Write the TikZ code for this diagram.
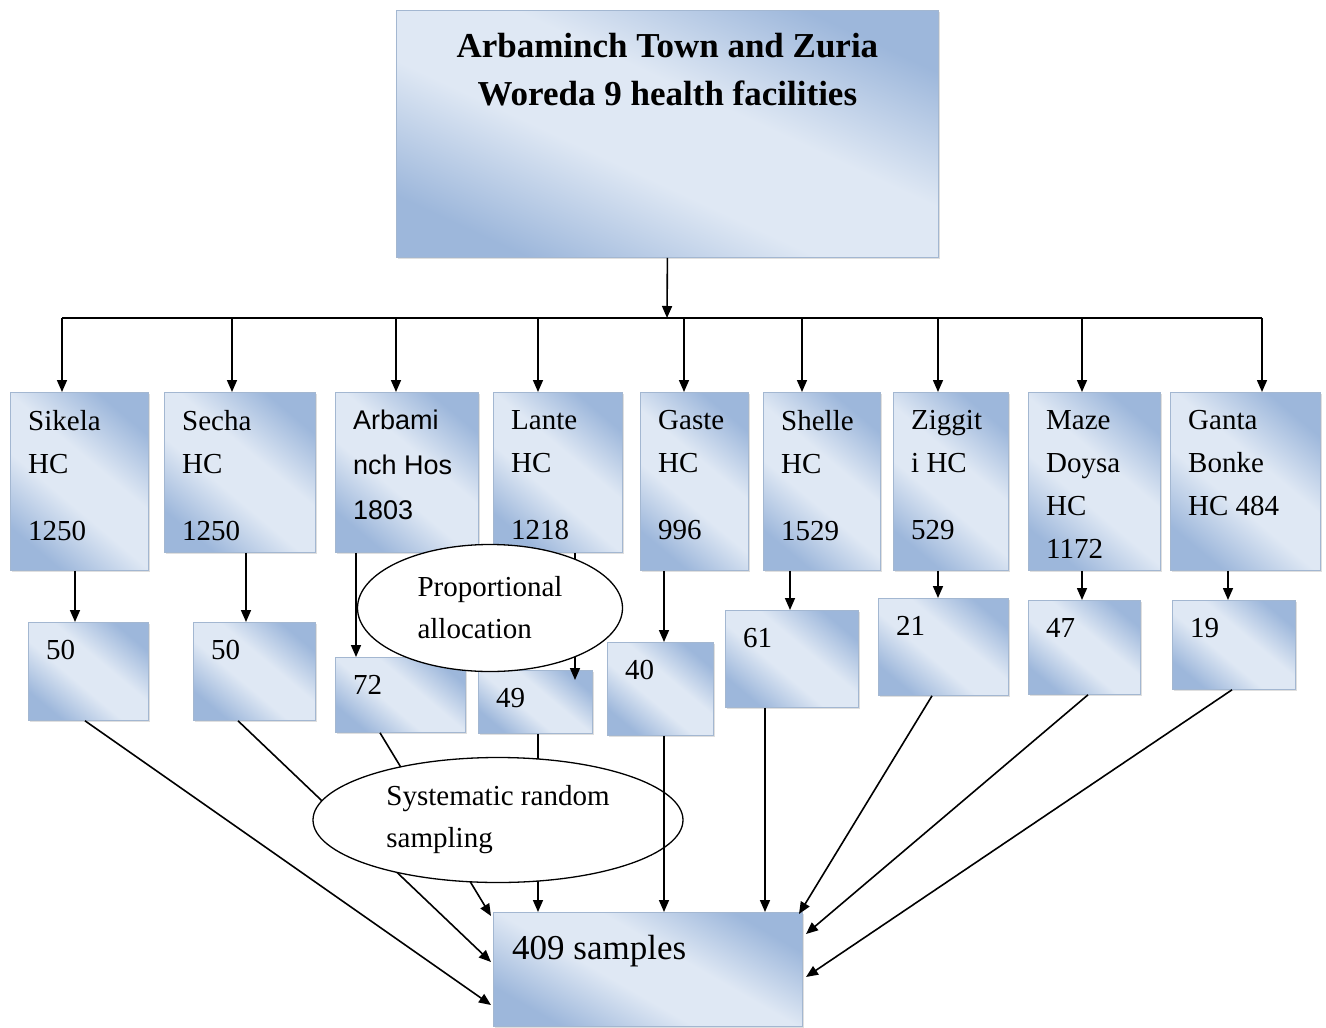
\documentclass[tikz,border=0pt]{standalone}
\usepackage{fontspec}
\setmainfont{Liberation Serif}
\newfontfamily\boxsans{Liberation Sans}
\usepackage{tikz}
\usetikzlibrary{calc,arrows.meta,shapes.geometric,shadows}
\definecolor{boxdark}{HTML}{9DB7DB}
\definecolor{boxlight}{HTML}{DFE8F4}
\definecolor{boxedge}{HTML}{A3B7D1}
\pgfdeclareverticalshading{boxfill}{100bp}{color(0bp)=(boxdark); color(25bp)=(boxdark);
  color(43bp)=(boxlight); color(57bp)=(boxlight); color(75bp)=(boxdark); color(100bp)=(boxdark)}
\tikzset{
  box/.style={draw=boxedge, line width=0.8pt, anchor=north west, inner sep=0pt,
    shading=boxfill, shading angle=-40,
    drop shadow={shadow xshift=1.5pt, shadow yshift=-2pt, opacity=0.25}},
  lab/.style={anchor=north west, inner xsep=18pt, inner ysep=18pt, align=left,
    text=black, font=\fontsize{29}{43}\selectfont},
  labs/.style={lab, font=\boxsans\fontsize{27}{45}\selectfont},
  labt/.style={anchor=north, inner ysep=23pt, align=center, text=black,
    font=\bfseries\fontsize{35}{48}\selectfont},
  labb/.style={lab, inner xsep=19pt, inner ysep=23pt, font=\fontsize{35}{42}\selectfont},
  oval/.style={ellipse, draw=black, fill=white, line width=1.3pt, inner sep=0pt,
    align=left, font=\fontsize{29}{42}\selectfont},
  link/.style={draw=black, line width=1.6pt},
  arr/.style={link, -{Triangle[length=12pt,width=10pt]}},
}
\begin{document}
\begin{tikzpicture}[x=1pt,y=-1pt]
  \useasboundingbox (0,0) rectangle (1326,1028);
  \fill[white] (0,0) rectangle (1326,1028);
  % top box
  \node[box, shading angle=-25, minimum width=542pt, minimum height=247pt,
    label={[labt]north:{Arbaminch Town and Zuria\\Woreda 9 health facilities}}] (facilities) at (396,10) {};
  % health facilities
  \node[box, minimum width=138pt, minimum height=178pt, label={[lab]north west:{Sikela\\HC\\[24pt]1250}}] (sikela) at (10,392) {};
  \node[box, minimum width=151pt, minimum height=160pt, label={[lab]north west:{Secha\\HC\\[24pt]1250}}] (secha) at (164,392) {};
  \node[box, minimum width=143pt, minimum height=160pt, label={[labs]north west:{Arbami\\nch Hos\\1803}}] (arbami) at (335,392) {};
  \node[box, minimum width=129pt, minimum height=160pt, label={[lab]north west:{Lante\\HC\\[24pt]1218}}] (lante) at (493,392) {};
  \node[box, minimum width=108pt, minimum height=178pt, label={[lab]north west:{Gaste\\HC\\[24pt]996}}] (gaste) at (640,392) {};
  \node[box, minimum width=117pt, minimum height=178pt, label={[lab]north west:{Shelle\\HC\\[24pt]1529}}] (shelle) at (763,392) {};
  \node[box, minimum width=115pt, minimum height=178pt, label={[lab]north west:{Ziggit\\i HC\\[24pt]529}}] (ziggit) at (893,392) {};
  \node[box, minimum width=132pt, minimum height=178pt, label={[lab]north west:{Maze\\Doysa\\HC\\1172}}] (maze) at (1028,392) {};
  \node[box, minimum width=150pt, minimum height=178pt, label={[lab]north west:{Ganta\\Bonke\\HC 484}}] (ganta) at (1170,392) {};
  % sample sizes
  \node[box, minimum width=120pt, minimum height=98pt, label={[lab]north west:50}] (n50a) at (28,622) {};
  \node[box, minimum width=122pt, minimum height=98pt, label={[lab]north west:50}] (n50b) at (193,622) {};
  \node[box, minimum width=130pt, minimum height=75pt, label={[lab]north west:72}] (n72) at (335,657) {};
  \node[box, minimum width=114pt, minimum height=63pt, label={[lab]north west:49}] (n49) at (478,670) {};
  \node[box, minimum width=106pt, minimum height=93pt, label={[lab]north west:40}] (n40) at (607,642) {};
  \node[box, minimum width=133pt, minimum height=97pt, label={[lab]north west:61}] (n61) at (725,610) {};
  \node[box, minimum width=130pt, minimum height=97pt, label={[lab]north west:21}] (n21) at (878,598) {};
  \node[box, minimum width=112pt, minimum height=94pt, label={[lab]north west:47}] (n47) at (1028,600) {};
  \node[box, minimum width=123pt, minimum height=89pt, label={[lab]north west:19}] (n19) at (1172,600) {};
  \node[box, shading angle=-30, minimum width=309pt, minimum height=114pt, label={[labb]north west:409 samples}] (samples) at (493,912) {};

  % top box to the nine facilities
  \coordinate (bus) at (667,318);
  \draw[arr] (facilities.south) -- (bus);
  \foreach \n/\dx in {sikela/52, secha/68, arbami/61, lante/45, gaste/44,
                      shelle/39, ziggit/45, maze/54, ganta/92}{
    \coordinate (d-\n) at ($(\n.north west)+(\dx,0)$);
    \draw[arr] (d-\n |- bus) -- (d-\n);
  }
  \draw[link] (d-sikela |- bus) -- (d-ganta |- bus);

  % facilities to sample sizes
  \foreach \a/\dx/\b in {sikela/65/n50a, secha/82/n50b, arbami/21/n72, gaste/24/n40,
                         shelle/27/n61, ziggit/45/n21, maze/54/n47, ganta/58/n19}{
    \coordinate (u-\a) at ($(\a.south west)+(\dx,0)$);
    \draw[arr] (u-\a) -- (u-\a |- \b.north);
  }
  \coordinate (u-lante) at ($(lante.south west)+(82,0)$);
  \draw[arr] (u-lante) -- ($(u-lante |- n49.north)+(0,10)$);

  % sample sizes to the total (behind the ellipse)
  \draw[arr] ($(n50a.south west)+(57,0)$) -- ($(samples.north west)+(-2,93)$);
  \draw[arr] ($(n50b.south west)+(45,0)$) -- ($(samples.north west)+(-2,50)$);
  \draw[arr] ($(n72.south west)+(45,0)$) -- ($(samples.north west)+(-2,4)$);
  \draw[arr] ($(n49.south west)+(60,0)$) -- ($(samples.north west)+(45,0)$);

  \node[oval, minimum width=265pt, minimum height=127pt] (propalloc) at (490,608) {Proportional\\allocation};
  \node[oval, minimum width=370pt, minimum height=125pt] (sysrand) at (498,820) {Systematic random\\sampling};

  \draw[arr] ($(n40.south west)+(57,0)$) -- ($(samples.north west)+(171,0)$);
  \draw[arr] ($(n61.south west)+(40,0)$) -- ($(samples.north west)+(272,0)$);
  \draw[arr] ($(n21.south west)+(54,0)$) -- ($(samples.north west)+(306,2)$);
  \draw[arr] ($(n47.south west)+(60,0)$) -- ($(samples.north west)+(313,22)$);
  \draw[arr] ($(n19.south west)+(60,0)$) -- ($(samples.north west)+(313,65)$);
\end{tikzpicture}
\end{document}
